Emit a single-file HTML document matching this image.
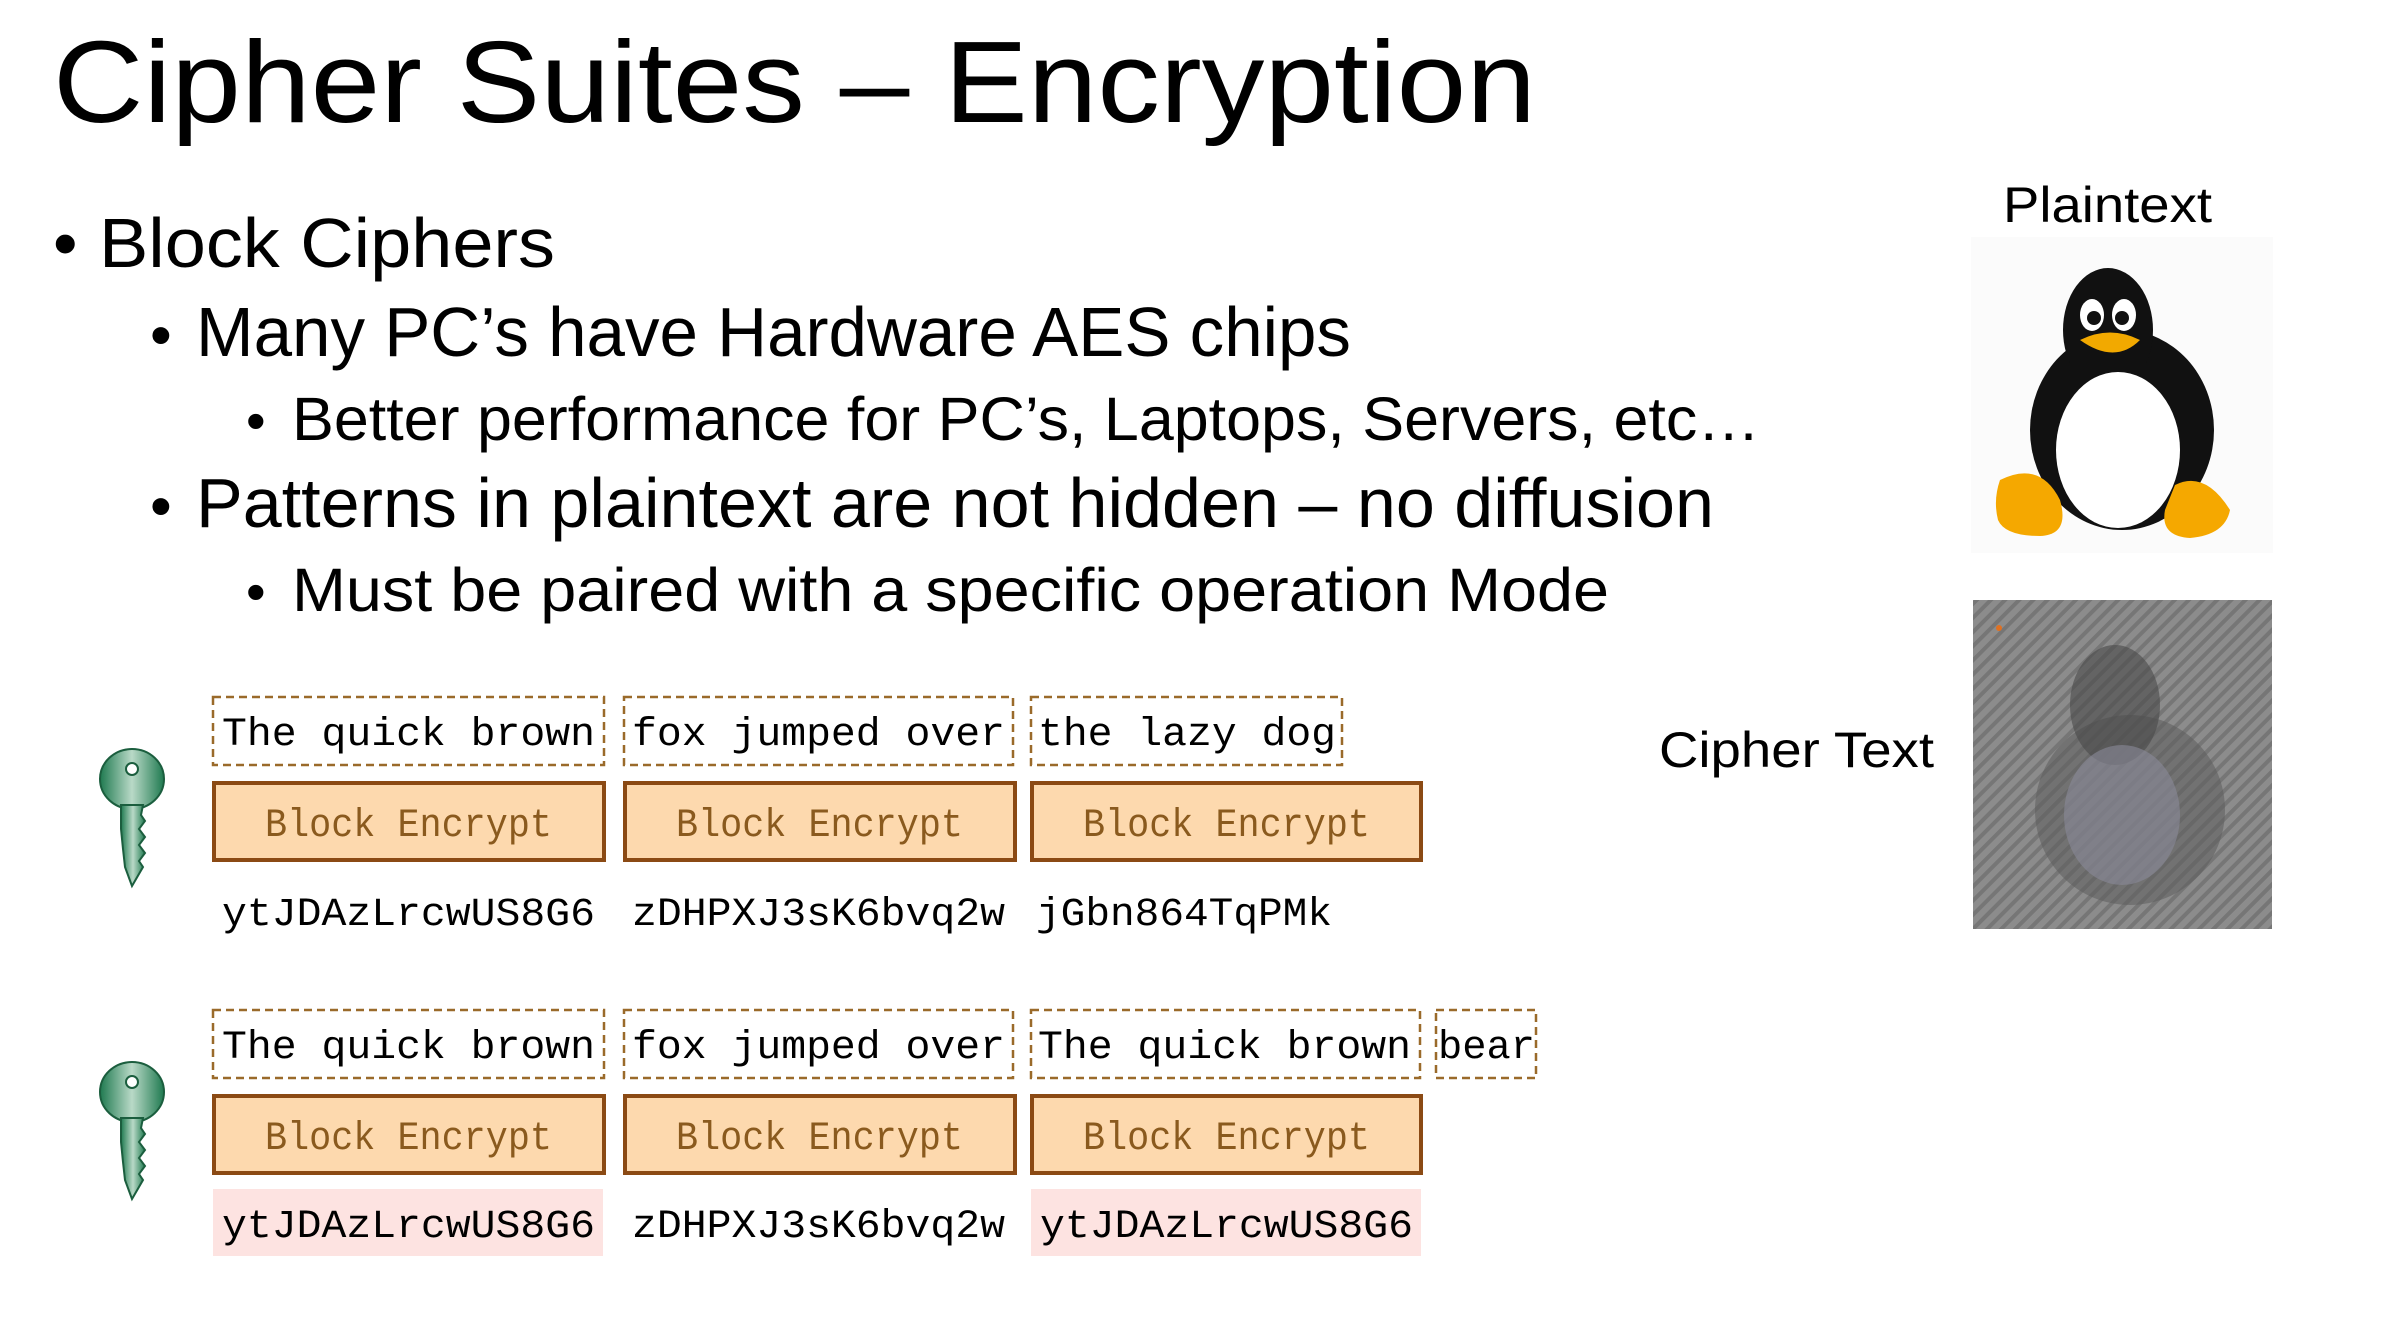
<!DOCTYPE html>
<html><head><meta charset="utf-8"><style>
html,body{margin:0;padding:0;background:#fff;}
svg{display:block;}
.s{font-family:"Liberation Sans",sans-serif;fill:#000;}
.m{font-family:"Liberation Mono",monospace;}
</style></head><body>
<svg width="2394" height="1318" viewBox="0 0 2394 1318" xmlns="http://www.w3.org/2000/svg">
<defs>
<linearGradient id="kg" x1="0" x2="1" y1="0" y2="0">
<stop offset="0" stop-color="#1f7a50"/><stop offset="0.5" stop-color="#b9d9c7"/><stop offset="1" stop-color="#1f7a50"/>
</linearGradient>
<pattern id="st" width="10" height="10" patternUnits="userSpaceOnUse" patternTransform="rotate(45)">
<rect width="10" height="10" fill="#8c8c8c"/><rect width="4" height="10" fill="#767676"/>
</pattern>
<g id="key">
<ellipse cx="33" cy="30" rx="32" ry="30" fill="url(#kg)" stroke="#1b5e3e" stroke-width="2"/>
<circle cx="33" cy="20" r="6" fill="#fff" stroke="#1b5e3e" stroke-width="2"/>
<path d="M22 56 L44 56 L42 66 L46 72 L40 80 L46 88 L40 96 L46 104 L40 112 L44 118 L33 137 L26 118 L24 100 L22 80 Z" fill="url(#kg)" stroke="#1b5e3e" stroke-width="2"/>
</g>
</defs>

<text class="s" x="53" y="122" font-size="116" textLength="1483" lengthAdjust="spacingAndGlyphs">Cipher Suites – Encryption</text>

<text class="s" x="53" y="267" font-size="70">•</text>
<text class="s" x="99" y="267" font-size="70" textLength="456" lengthAdjust="spacingAndGlyphs">Block Ciphers</text>
<text class="s" x="150" y="356" font-size="62">•</text>
<text class="s" x="196" y="356" font-size="70" textLength="1155" lengthAdjust="spacingAndGlyphs">Many PC’s have Hardware AES chips</text>
<text class="s" x="246" y="440" font-size="56">•</text>
<text class="s" x="292" y="440" font-size="61" textLength="1468" lengthAdjust="spacingAndGlyphs">Better performance for PC’s, Laptops, Servers, etc…</text>
<text class="s" x="150" y="527" font-size="62">•</text>
<text class="s" x="196" y="527" font-size="70" textLength="1518" lengthAdjust="spacingAndGlyphs">Patterns in plaintext are not hidden – no diffusion</text>
<text class="s" x="246" y="611" font-size="56">•</text>
<text class="s" x="292" y="611" font-size="61" textLength="1317" lengthAdjust="spacingAndGlyphs">Must be paired with a specific operation Mode</text>

<!-- Right side -->
<text class="s" x="2003" y="222" font-size="50" textLength="209" lengthAdjust="spacingAndGlyphs">Plaintext</text>
<rect x="1971" y="237" width="302" height="316" fill="#fbfbfb"/>
<g>
<ellipse cx="2122" cy="430" rx="92" ry="100" fill="#111"/>
<ellipse cx="2108" cy="330" rx="45" ry="62" fill="#111"/>
<ellipse cx="2118" cy="450" rx="62" ry="78" fill="#fff"/>
<ellipse cx="2092" cy="315" rx="12" ry="16" fill="#fff"/><circle cx="2094" cy="318" r="7" fill="#111"/>
<ellipse cx="2124" cy="315" rx="12" ry="16" fill="#fff"/><circle cx="2122" cy="318" r="7" fill="#111"/>
<path d="M2080 340 Q2110 325 2140 340 Q2115 365 2080 340 Z" fill="#f2a900"/>
<path d="M2000 480 Q2040 460 2060 500 Q2070 535 2040 536 Q2005 536 1998 520 Q1993 500 2000 480 Z" fill="#f5a800"/>
<path d="M2175 485 Q2205 470 2230 510 Q2225 535 2190 538 Q2160 536 2165 510 Z" fill="#f5a800"/>
</g>
<text class="s" x="1659" y="767" font-size="50" textLength="275" lengthAdjust="spacingAndGlyphs">Cipher Text</text>
<rect x="1973" y="600" width="299" height="329" fill="url(#st)"/>
<ellipse cx="2130" cy="810" rx="95" ry="95" fill="#5c5c5c" opacity="0.55"/>
<ellipse cx="2115" cy="705" rx="45" ry="60" fill="#4a4a4a" opacity="0.6"/>
<ellipse cx="2122" cy="815" rx="58" ry="70" fill="#8a8a9a" opacity="0.6"/>
<circle cx="1999" cy="628" r="3" fill="#e07020"/>

<!-- Keys -->
<use href="#key" x="99" y="749"/>
<use href="#key" x="99" y="1062"/>

<g class="m" font-size="40">
<!-- Row 1 -->
<g fill="none" stroke="#9a6a2a" stroke-width="2.5" stroke-dasharray="8 5">
<rect x="213" y="697" width="391" height="68"/>
<rect x="624" y="697" width="389" height="68"/>
<rect x="1031" y="697" width="311" height="68"/>
<rect x="213" y="1010" width="391" height="68"/>
<rect x="624" y="1010" width="389" height="68"/>
<rect x="1031" y="1010" width="389" height="68"/>
<rect x="1436" y="1010" width="100" height="68"/>
</g>
<text x="222" y="745" textLength="373" lengthAdjust="spacingAndGlyphs">The quick brown</text>
<text x="632" y="745" textLength="373" lengthAdjust="spacingAndGlyphs">fox jumped over</text>
<text x="1038" y="745" textLength="298" lengthAdjust="spacingAndGlyphs">the lazy dog</text>

<g fill="#fdd9ae" stroke="#8b4a14" stroke-width="4">
<rect x="214" y="783" width="390" height="77"/>
<rect x="625" y="783" width="390" height="77"/>
<rect x="1032" y="783" width="389" height="77"/>
<rect x="214" y="1096" width="390" height="77"/>
<rect x="625" y="1096" width="390" height="77"/>
<rect x="1032" y="1096" width="389" height="77"/>
</g>
<g fill="#8a5a1e">
<text x="265" y="836" textLength="287" lengthAdjust="spacingAndGlyphs">Block Encrypt</text>
<text x="676" y="836" textLength="287" lengthAdjust="spacingAndGlyphs">Block Encrypt</text>
<text x="1083" y="836" textLength="287" lengthAdjust="spacingAndGlyphs">Block Encrypt</text>
<text x="265" y="1149" textLength="287" lengthAdjust="spacingAndGlyphs">Block Encrypt</text>
<text x="676" y="1149" textLength="287" lengthAdjust="spacingAndGlyphs">Block Encrypt</text>
<text x="1083" y="1149" textLength="287" lengthAdjust="spacingAndGlyphs">Block Encrypt</text>
</g>
<text x="222" y="925" textLength="373" lengthAdjust="spacingAndGlyphs">ytJDAzLrcwUS8G6</text>
<text x="632" y="925" textLength="373" lengthAdjust="spacingAndGlyphs">zDHPXJ3sK6bvq2w</text>
<text x="1036" y="925" textLength="296" lengthAdjust="spacingAndGlyphs">jGbn864TqPMk</text>

<text x="222" y="1058" textLength="373" lengthAdjust="spacingAndGlyphs">The quick brown</text>
<text x="632" y="1058" textLength="373" lengthAdjust="spacingAndGlyphs">fox jumped over</text>
<text x="1038" y="1058" textLength="373" lengthAdjust="spacingAndGlyphs">The quick brown</text>
<text x="1438" y="1058" textLength="97" lengthAdjust="spacingAndGlyphs">bear</text>

<rect x="213" y="1189" width="390" height="67" fill="#fde3e1"/>
<rect x="1031" y="1189" width="390" height="67" fill="#fde3e1"/>
<text x="222" y="1237" textLength="373" lengthAdjust="spacingAndGlyphs">ytJDAzLrcwUS8G6</text>
<text x="632" y="1237" textLength="373" lengthAdjust="spacingAndGlyphs">zDHPXJ3sK6bvq2w</text>
<text x="1040" y="1237" textLength="373" lengthAdjust="spacingAndGlyphs">ytJDAzLrcwUS8G6</text>
</g>
</svg>
</body></html>
